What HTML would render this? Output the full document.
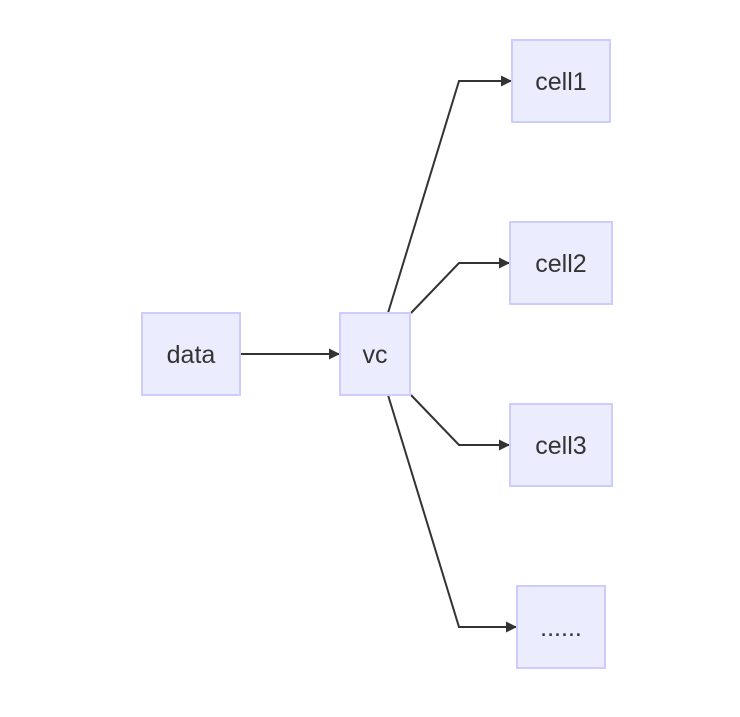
<!DOCTYPE html>
<html><head><style>html,body{margin:0;background:#fff}</style></head><body>
<svg width="740" height="712" xmlns="http://www.w3.org/2000/svg">
<defs><marker id="a" viewBox="0 0 10 10" refX="10" refY="5" markerWidth="11" markerHeight="11" markerUnits="userSpaceOnUse" orient="auto"><path d="M0,0L10,5L0,10z" fill="#333"/></marker></defs>
<g fill="none" stroke="#333" stroke-width="2">
<path d="M240,354H340" marker-end="url(#a)"/>
<path d="M388,313L459,81H512" marker-end="url(#a)"/>
<path d="M411,313L459,263H510" marker-end="url(#a)"/>
<path d="M411,395L459,445H510" marker-end="url(#a)"/>
<path d="M388,395L459,627H517" marker-end="url(#a)"/>
</g>
<g fill="#ececff" stroke="#ccccff" stroke-width="2">
<rect x="142" y="313" width="98" height="82"/>
<rect x="340" y="313" width="70" height="82"/>
<rect x="512" y="40" width="98" height="82"/>
<rect x="510" y="222" width="102" height="82"/>
<rect x="510" y="404" width="102" height="82"/>
<rect x="517" y="586" width="88" height="82"/>
</g>
<g font-family="Liberation Sans, sans-serif" font-size="25" fill="#333" text-anchor="middle">
<text x="191" y="363">data</text>
<text x="375" y="363">vc</text>
<text x="561" y="90">cell1</text>
<text x="561" y="272">cell2</text>
<text x="561" y="454">cell3</text>
<text x="561" y="636">......</text>
</g>
</svg>
</body></html>
